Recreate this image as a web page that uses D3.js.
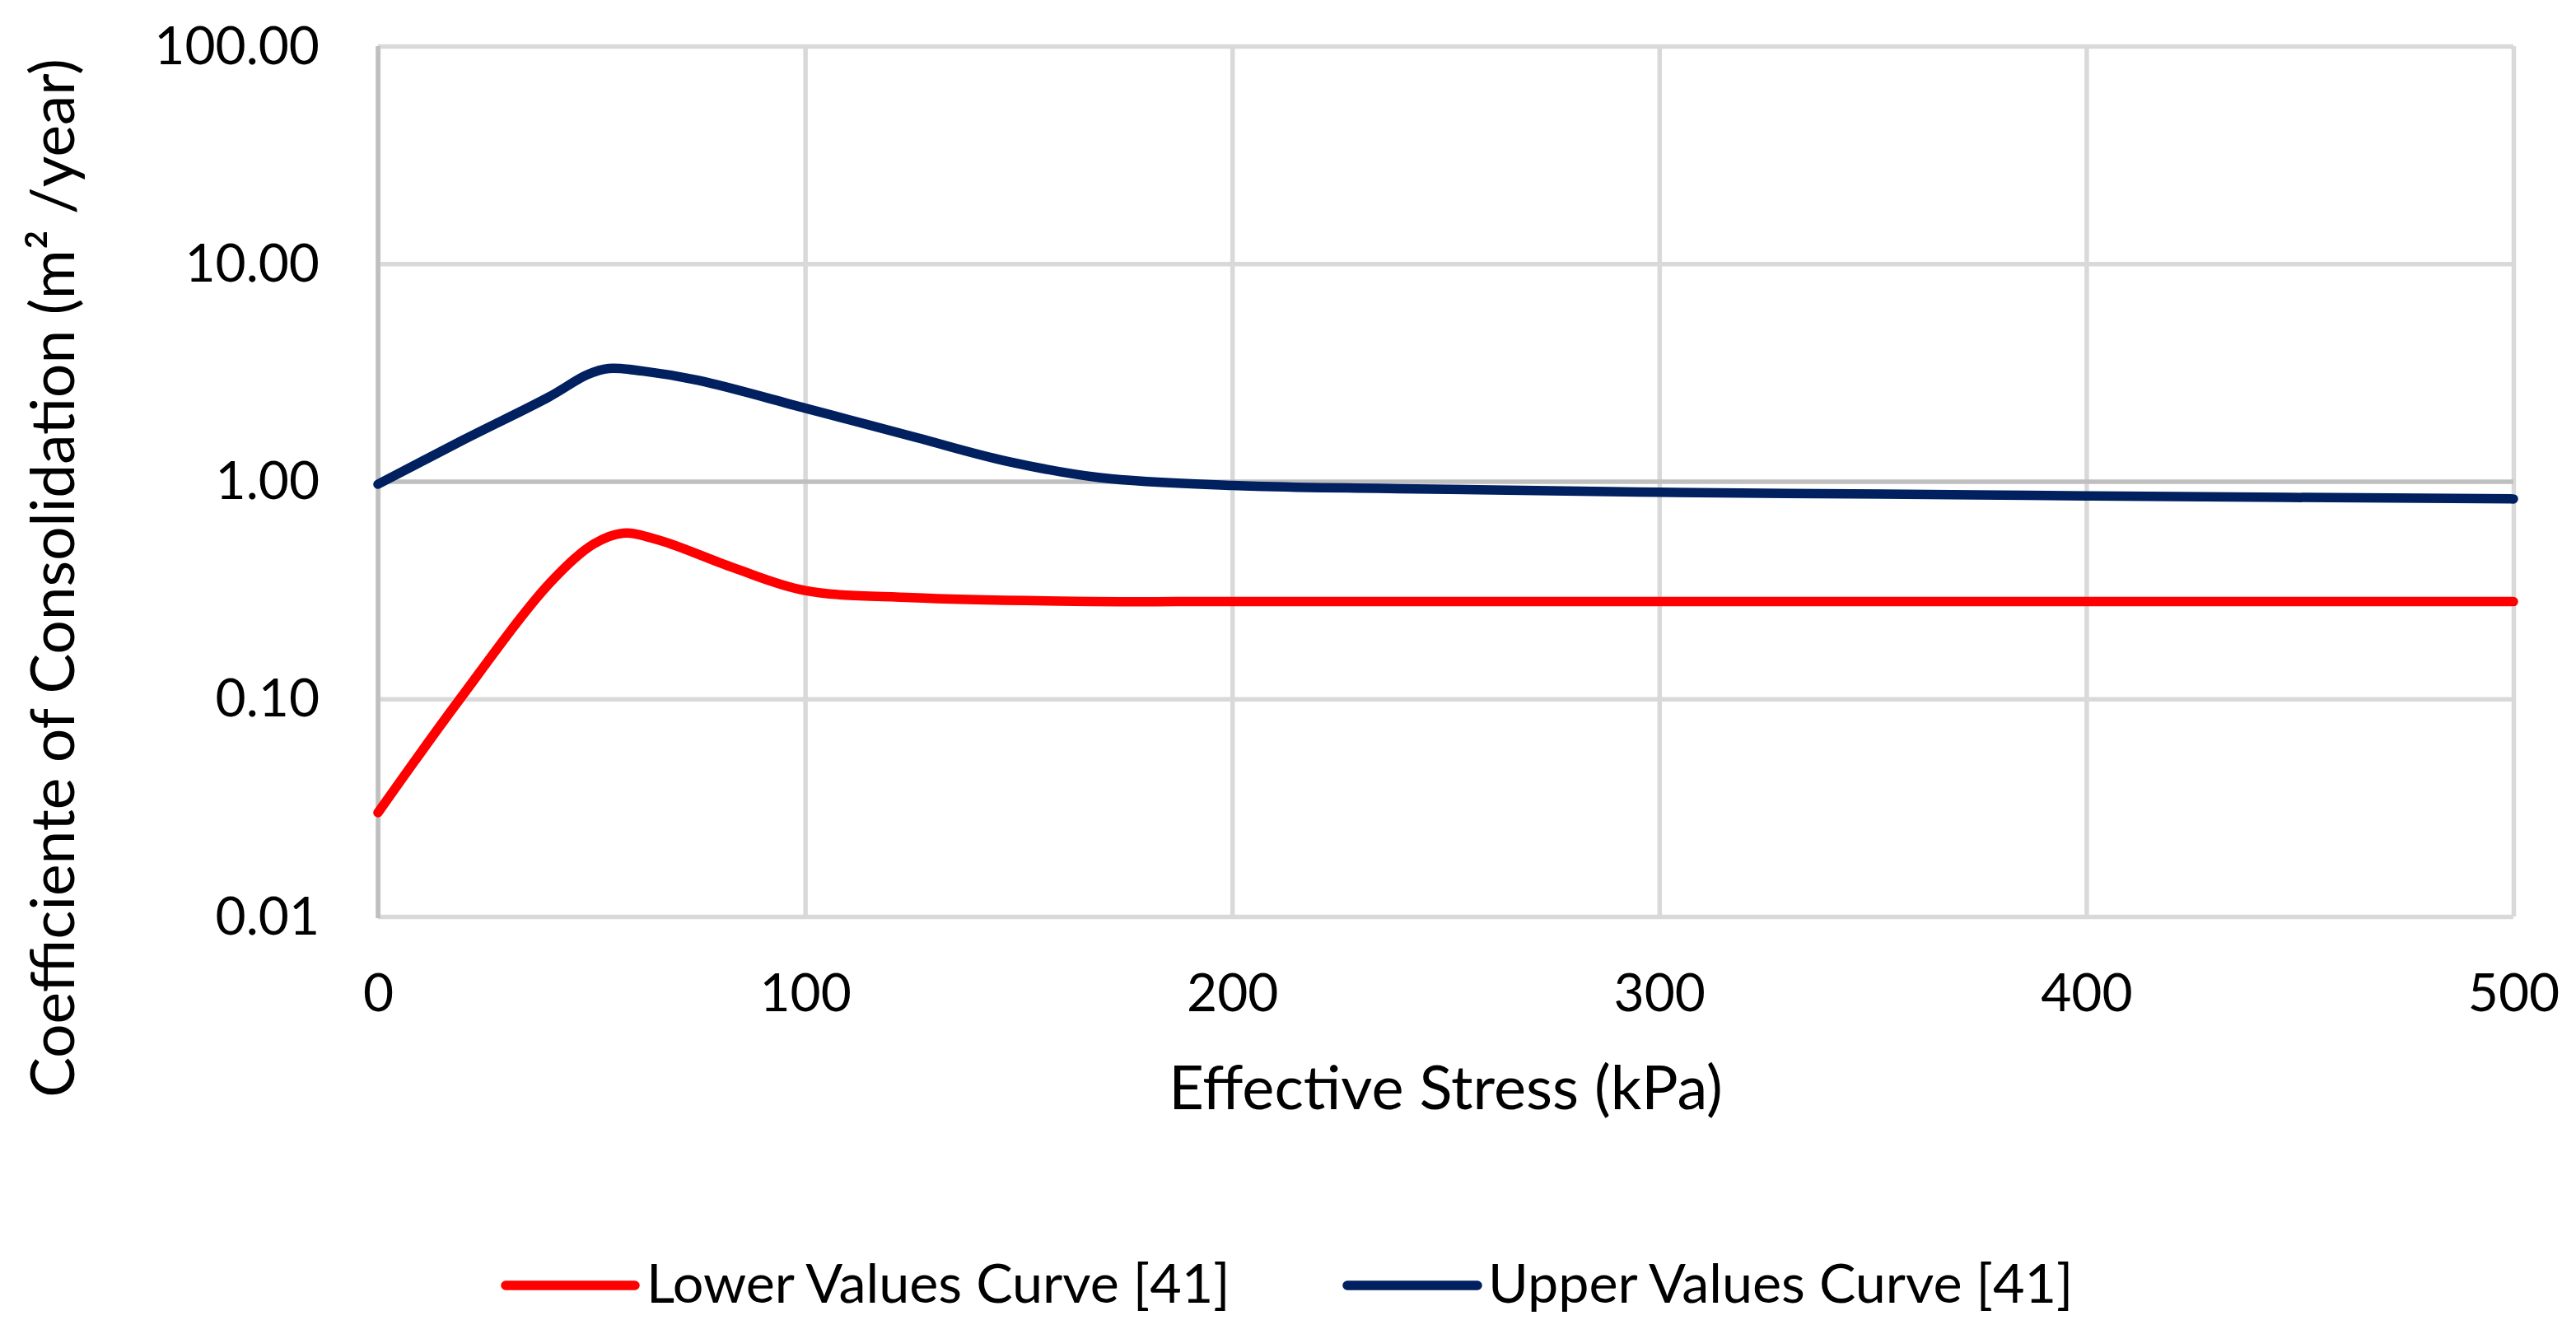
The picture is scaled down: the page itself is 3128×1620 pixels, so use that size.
<!DOCTYPE html>
<html>
<head>
<meta charset="utf-8">
<script src="https://cdn.jsdelivr.net/npm/d3@7"></script>
<style>
  html, body { margin: 0; padding: 0; background: #ffffff; }
  svg { display: block; }
  text { font-family: Lato, "Open Sans", sans-serif; fill: #000; }
</style>
</head>
<body>
<svg id="chart" width="3128" height="1620"></svg>
<script>
// ---- Data ----
const lowerStress = [0, 18.7, 40.3, 50.5, 57.4, 66, 83.3, 100, 125, 163, 200, 300, 400, 500];
const lowerCv     = [0.030, 0.097, 0.342, 0.515, 0.578, 0.535, 0.40, 0.315, 0.292, 0.281, 0.28, 0.28, 0.28, 0.28];

const upperStress = [0, 20, 40, 49, 54, 62, 75, 100, 126, 147, 169, 200, 239, 300, 374, 400, 500];
const upperCv     = [0.97, 1.55, 2.44, 3.09, 3.30, 3.21, 2.91, 2.17, 1.59, 1.24, 1.04, 0.957, 0.925, 0.89, 0.867, 0.857, 0.83];

const xTickValues = [0, 100, 200, 300, 400, 500];
const yTickValues = [0.01, 0.1, 1, 10, 100];

const seriesNames = ["Lower Values Curve [41]", "Upper Values Curve [41]"];
const seriesColors = ["#FF0000", "#002060"];

// ---- Layout ----
const svg = d3.select("#chart");
const X0 = 459, X1 = 3052, Y0 = 56, Y1 = 1113;

const x = d3.scaleLinear().domain([0, 500]).range([X0, X1]);
const y = d3.scaleLog().domain([0.01, 100]).range([Y1, Y0]);

const gridColor = "#d9d9d9", axisColor = "#bfbfbf", gridW = 5.5;

// vertical gridlines
svg.append("g")
  .attr("transform", `translate(0,${Y1})`)
  .call(d3.axisBottom(x).tickValues(xTickValues).tickSize(-(Y1 - Y0)).tickFormat(""))
  .call(g => g.select(".domain").remove())
  .call(g => g.selectAll(".tick line").attr("stroke", gridColor).attr("stroke-width", gridW));

// horizontal gridlines
svg.append("g")
  .attr("transform", `translate(${X0},0)`)
  .call(d3.axisLeft(y).tickValues(yTickValues).tickSize(-(X1 - X0)).tickFormat(""))
  .call(g => g.select(".domain").remove())
  .call(g => g.selectAll(".tick line")
    .attr("stroke", d => d === 1 ? axisColor : gridColor)
    .attr("stroke-width", gridW));

// left axis line (vertical axis)
svg.append("line")
  .attr("x1", x(0)).attr("x2", x(0))
  .attr("y1", Y0).attr("y2", Y1 + 2)
  .attr("stroke", axisColor).attr("stroke-width", gridW);

// y tick labels
const yAxis = svg.append("g")
  .attr("transform", `translate(388,0)`)
  .call(d3.axisLeft(y).tickValues(yTickValues).tickSize(0).tickPadding(0).tickFormat(d3.format(".2f")));
yAxis.select(".domain").remove();
yAxis.selectAll("text")
  .attr("x", 0).attr("dy", null).attr("y", 21)
  .attr("text-anchor", "end")
  .style("font-family", "Lato, 'Open Sans', sans-serif")
  .style("font-size", "64px").attr("fill", "#000");

// x tick labels
const xAxis = svg.append("g")
  .attr("transform", `translate(0,1228)`)
  .call(d3.axisBottom(x).tickValues(xTickValues).tickSize(0).tickPadding(0).tickFormat(d3.format("d")));
xAxis.select(".domain").remove();
xAxis.selectAll("text")
  .attr("y", 0).attr("dy", null)
  .attr("text-anchor", "middle")
  .style("font-family", "Lato, 'Open Sans', sans-serif")
  .style("font-size", "64px").attr("fill", "#000");

// axis titles
svg.append("text")
  .attr("x", (X0 + X1) / 2).attr("y", 1347)
  .attr("text-anchor", "middle")
  .style("font-size", "74px")
  .text("Effective Stress (kPa)");

svg.append("text")
  .attr("transform", "translate(90,702) rotate(-90)")
  .attr("text-anchor", "middle")
  .style("font-size", "73px")
  .text("Coefficiente of Consolidation (m² /year)");

// series lines
const line = d3.line()
  .x(d => x(d[0]))
  .y(d => y(d[1]))
  .curve(d3.curveCatmullRom.alpha(0.5));

const series = [
  d3.zip(lowerStress, lowerCv),
  d3.zip(upperStress, upperCv)
];

svg.append("g").selectAll("path")
  .data(series)
  .join("path")
  .attr("d", line)
  .attr("fill", "none")
  .attr("stroke", (d, i) => seriesColors[i])
  .attr("stroke-width", 11.5)
  .attr("stroke-linecap", "round")
  .attr("stroke-linejoin", "round");

// legend
const legendItems = [
  { name: seriesNames[0], color: seriesColors[0], x1: 614, x2: 771, tx: 785 },
  { name: seriesNames[1], color: seriesColors[1], x1: 1636, x2: 1794, tx: 1807 }
];
const lg = svg.append("g");
legendItems.forEach(it => {
  lg.append("line")
    .attr("x1", it.x1).attr("x2", it.x2)
    .attr("y1", 1561).attr("y2", 1561)
    .attr("stroke", it.color).attr("stroke-width", 11.5)
    .attr("stroke-linecap", "round");
  lg.append("text")
    .attr("x", it.tx).attr("y", 1582)
    .style("font-size", "66.5px")
    .text(it.name);
});
</script>
</body>
</html>
